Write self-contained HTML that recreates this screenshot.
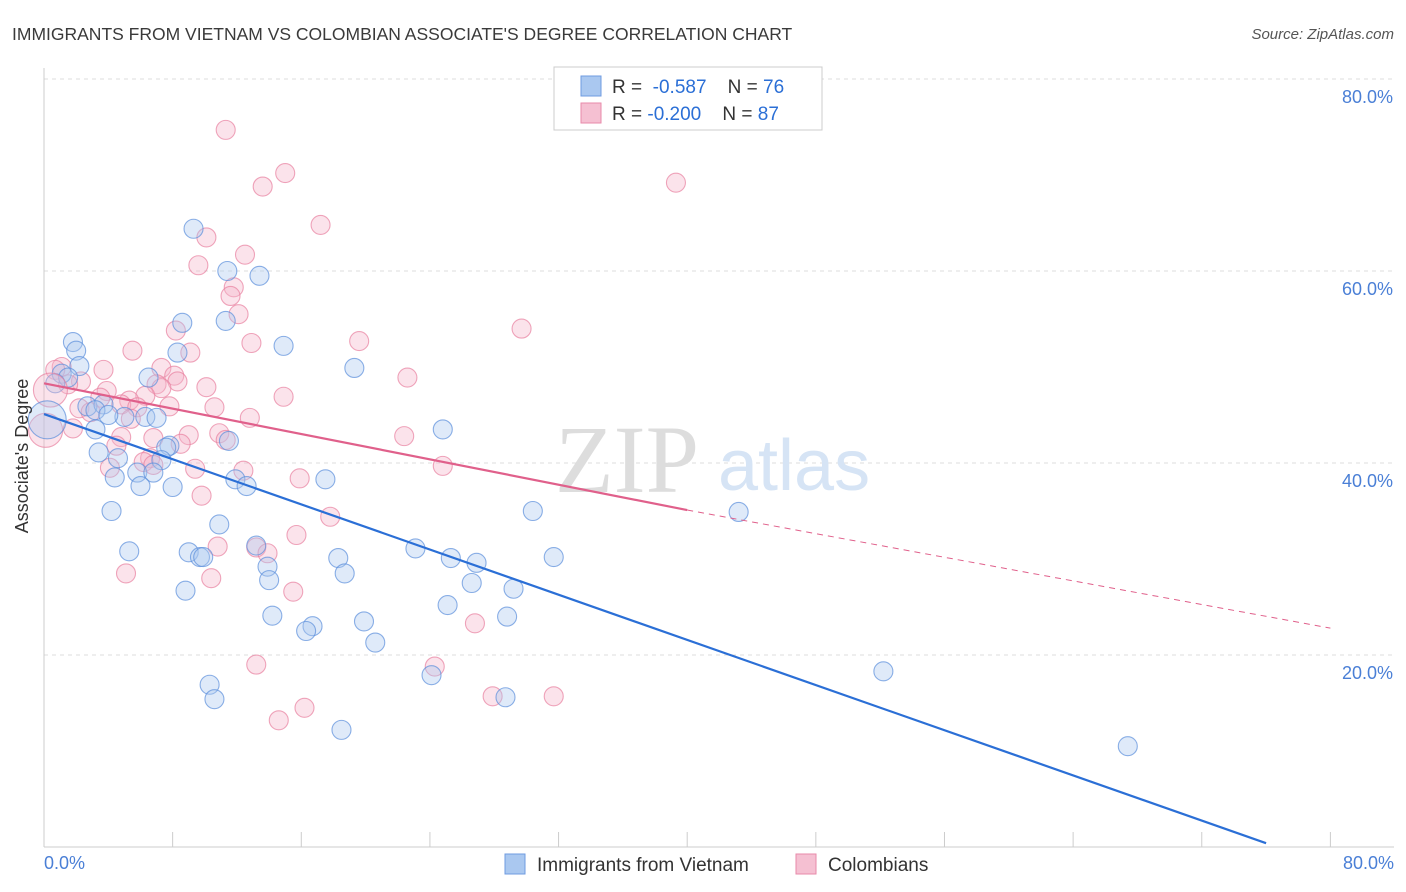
<!DOCTYPE html>
<html><head><meta charset="utf-8"><style>
body{margin:0;background:#fff;font-family:"Liberation Sans",sans-serif}
svg{display:block}
</style></head><body>
<svg id="c" width="1406" height="892">
<text x="12" y="40" font-size="17.5" fill="#3a3a3a">IMMIGRANTS FROM VIETNAM VS COLOMBIAN ASSOCIATE'S DEGREE CORRELATION CHART</text>
<text x="1394" y="39" font-size="15" fill="#555" font-style="italic" text-anchor="end">Source: ZipAtlas.com</text>
<g id="grid"></g>
<text x="555" y="492" font-size="96" font-family="Liberation Serif,serif" fill="#ddd">ZIP</text>
<text x="718" y="490" font-size="72" fill="#d6e4f5">atlas</text>
<line x1="44" y1="68" x2="44" y2="847" stroke="#ccc"/>
<line x1="44" y1="847" x2="1394" y2="847" stroke="#ccc"/>
<g id="ticks"></g>
<g id="pts"></g>
<g id="lines"></g>
<text x="28" y="456" font-size="18" fill="#333" text-anchor="middle" transform="rotate(-90 28 456)">Associate's Degree</text>
<text x="44" y="869" font-size="18" fill="#4a7fd6">0.0%</text>
<text x="1394" y="869" font-size="18" fill="#4a7fd6" text-anchor="end">80.0%</text>
<g>
<rect x="554" y="67" width="268" height="63" fill="#fff" stroke="#ccc"/>
<rect x="581" y="76" width="20" height="20" fill="#aac8f0" stroke="#6f9be0"/>
<rect x="581" y="103" width="20" height="20" fill="#f5c0d2" stroke="#e88aaa"/>
<text x="612" y="93" font-size="19" fill="#333" xml:space="preserve">R =  <tspan fill="#2b6fd6">-0.587</tspan>    N = <tspan fill="#2b6fd6">76</tspan></text>
<text x="612" y="120" font-size="19" fill="#333" xml:space="preserve">R = <tspan fill="#2b6fd6">-0.200</tspan>    N = <tspan fill="#2b6fd6">87</tspan></text>
</g>
<g>
<rect x="505" y="854" width="20" height="20" fill="#aac8f0" stroke="#6f9be0"/>
<text x="537" y="871" font-size="19" fill="#333">Immigrants from Vietnam</text>
<rect x="796" y="854" width="20" height="20" fill="#f5c0d2" stroke="#e88aaa"/>
<text x="828" y="871" font-size="19" fill="#333">Colombians</text>
</g>
</svg>
<script>
const blueX=[9.3,11.4,13.4,8.6,11.3,1.8,14.9,2.0,8.3,19.3,2.2,1.1,1.5,0.7,6.5,2.7,3.7,3.2,5.0,4.0,6.3,7.0,3.2,24.8,11.5,7.8,7.6,3.4,4.6,7.3,5.8,6.8,4.4,11.9,12.6,6.0,8.0,17.5,4.2,30.4,43.2,10.9,13.2,5.3,9.0,23.1,9.7,9.9,18.3,25.3,26.9,31.7,13.9,18.7,14.0,26.6,29.2,8.8,25.1,14.2,28.8,19.9,16.7,16.3,20.6,52.2,24.1,10.3,10.6,28.7,18.5,67.4];
const blueY=[64.4,60.0,59.5,54.6,54.8,52.6,52.2,51.7,51.5,49.9,50.1,49.3,48.9,48.3,48.9,45.9,46.1,45.5,44.8,45.0,44.8,44.7,43.5,43.5,42.3,41.8,41.6,41.1,40.5,40.3,39.0,39.0,38.5,38.3,37.6,37.6,37.5,38.3,35.0,35.0,34.9,33.6,31.4,30.8,30.7,31.1,30.2,30.2,30.1,30.1,29.6,30.2,29.2,28.5,27.8,27.5,26.9,26.7,25.2,24.1,24.0,23.5,23.0,22.5,21.3,18.3,17.9,16.9,15.4,15.6,12.2,10.5];
const pinkX=[11.3,15.0,13.6,39.3,17.2,10.1,12.5,9.6,11.8,11.6,12.1,29.7,8.2,19.6,12.9,5.5,9.1,7.3,3.7,1.1,0.7,8.1,22.6,8.3,2.3,1.5,7.0,7.3,10.1,3.9,14.9,6.3,5.3,3.5,4.8,7.8,2.2,5.8,10.6,2.9,12.8,5.4,1.8,10.9,9.0,11.3,22.4,4.8,6.8,8.5,4.5,6.6,6.2,24.8,6.8,4.1,9.4,12.4,15.9,9.8,17.8,15.7,10.8,13.2,13.9,5.1,10.4,15.5,26.8,13.2,24.3,27.9,31.7,16.2,14.6];
const pinkY=[74.7,70.2,68.8,69.2,64.8,63.5,61.7,60.6,58.3,57.4,55.5,54.0,53.8,52.7,52.5,51.7,51.5,49.9,49.7,50.0,49.7,49.1,48.9,48.5,48.5,48.2,48.2,47.8,47.9,47.5,46.9,47.0,46.5,46.8,46.1,45.9,45.7,45.8,45.8,45.3,44.7,44.6,43.6,43.1,42.9,42.4,42.8,42.7,42.6,42.0,41.8,40.5,40.1,39.7,39.8,39.5,39.4,39.2,38.4,36.6,34.4,32.5,31.3,31.2,30.6,28.5,28.0,26.6,23.3,19.0,18.8,15.7,15.7,14.5,13.2];
const bigBlue=[[0.2,44.5]];
const bigPink=[[0.4,47.6],[0.1,43.4]];
const blueTrend=[[0,45.1],[76,0.4]];
const pinkTrend=[[0,48.3],[40,35.1],[80,22.8]];
const yTicks=[20,40,60,80];
const xTicks=[0,8,16,24,32,40,48,56,64,72,80];
const sx=v=>44+v*16.08, sy=v=>847-v*9.6;
const NS="http://www.w3.org/2000/svg";
function mk(t,a,p){const e=document.createElementNS(NS,t);for(const k in a)e.setAttribute(k,a[k]);document.getElementById(p).appendChild(e);return e;}
yTicks.forEach(t=>{const l=mk('line',{x1:44,x2:1394,y1:sy(t),y2:sy(t),stroke:'#ddd','stroke-dasharray':'4,4'},'grid');


const tx=mk('text',{x:1393,y:sy(t)+24,'font-size':18,fill:'#4a7fd6','text-anchor':'end'},'grid');tx.textContent=t.toFixed(1)+'%';

});
xTicks.forEach(t=>{const l=mk('line',{x1:sx(t),x2:sx(t),y1:832,y2:847,stroke:'#ccc'},'ticks');

});
function dot(x,y,r,c){const e=mk('circle',{cx:sx(x),cy:sy(y),r:r,fill:c[0],'fill-opacity':0.38,stroke:c[1],'stroke-opacity':0.7,'stroke-width':1.1},'pts');return e;}
const BC=['#aac8f0','#5b8fdc'],PC=['#f5b6ca','#e8809f'];
pinkX.forEach((x,i)=>{const e=dot(x,pinkY[i],9.5,PC);

});
blueX.forEach((x,i)=>{const e=dot(x,blueY[i],9.5,BC);

});
bigPink.forEach(p=>{const e=dot(p[0],p[1],17,PC);

});
bigBlue.forEach(p=>{const e=dot(p[0],p[1],19,BC);

});
let l=mk('line',{x1:sx(blueTrend[0][0]),y1:sy(blueTrend[0][1]),x2:sx(blueTrend[1][0]),y2:sy(blueTrend[1][1]),stroke:'#2b6fd6','stroke-width':2.2},'lines');


l=mk('line',{x1:sx(pinkTrend[0][0]),y1:sy(pinkTrend[0][1]),x2:sx(pinkTrend[1][0]),y2:sy(pinkTrend[1][1]),stroke:'#e0608b','stroke-width':2.2},'lines');


l=mk('line',{x1:sx(pinkTrend[1][0]),y1:sy(pinkTrend[1][1]),x2:sx(pinkTrend[2][0]),y2:sy(pinkTrend[2][1]),stroke:'#e0608b','stroke-width':1,'stroke-dasharray':'6,5'},'lines');


</script>
</body></html>
